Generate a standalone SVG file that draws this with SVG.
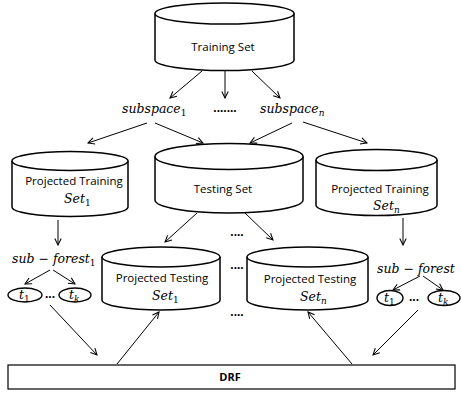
<svg xmlns="http://www.w3.org/2000/svg" width="461" height="393" viewBox="0 0 461 393">
<defs>
<marker id="arr" viewBox="0 0 10 10" refX="9" refY="5" markerWidth="8" markerHeight="8" markerUnits="userSpaceOnUse" orient="auto">
<polyline points="1,1 9,5 1,9" fill="none" stroke="#000" stroke-width="1.3"/>
</marker>
</defs>
<style>
.cyl{fill:#fff;stroke:#000;stroke-width:1.5}
.lbl{font-family:"Open Sans","Liberation Sans",sans-serif;font-size:11.5px;fill:#000;text-anchor:middle}
.m{font-family:"DejaVu Serif","Liberation Serif",serif;font-style:italic;font-size:12.5px;fill:#000}
.sub{font-size:9px;font-style:normal}
.subi{font-size:9px;font-style:italic}
.c{stroke:#000;stroke-width:1;fill:none;marker-end:url(#arr)}
.dots{font-family:"Liberation Sans",sans-serif;font-weight:bold;font-size:12px;fill:#000;text-anchor:middle}
.el{fill:#fff;stroke:#000;stroke-width:1.4}
</style>
<rect width="461" height="393" fill="#fff"/>

<g id="connectors">
<line class="c" x1="202" y1="71" x2="170" y2="98"/>
<line class="c" x1="225" y1="71" x2="225" y2="98"/>
<line class="c" x1="252" y1="71" x2="280" y2="98"/>
<line class="c" x1="147" y1="123" x2="88" y2="143"/>
<line class="c" x1="155" y1="123" x2="203" y2="143"/>
<line class="c" x1="292" y1="123" x2="250" y2="143"/>
<line class="c" x1="303" y1="122" x2="367" y2="143"/>
<line class="c" x1="58" y1="220" x2="58" y2="245"/>
<line class="c" x1="197" y1="213" x2="165" y2="242"/>
<line class="c" x1="245" y1="213" x2="273" y2="240"/>
<line class="c" x1="403" y1="218" x2="403" y2="245"/>
<line class="c" x1="50" y1="270" x2="25" y2="284"/>
<line class="c" x1="53" y1="270" x2="75" y2="284"/>
<line class="c" x1="420" y1="276" x2="393" y2="290"/>
<line class="c" x1="423" y1="276" x2="443" y2="290"/>
<line class="c" x1="50" y1="305" x2="97" y2="355"/>
<line class="c" x1="117" y1="364" x2="159" y2="312"/>
<line class="c" x1="352" y1="364" x2="308" y2="312"/>
<line class="c" x1="418" y1="310" x2="373" y2="355"/>
</g>

<g id="training-set">
<path class="cyl" d="M155,13.5 L155,60 A69.5,10.5 0 0 0 294,60 L294,13.5"/>
<ellipse class="cyl" cx="224.5" cy="13.5" rx="69.5" ry="10.5"/>
<text class="lbl" x="223" y="51">Training Set</text>
</g>

<g id="subspace-1"><text class="m" x="122" y="113">subspace<tspan class="sub" dy="3">1</tspan></text></g>
<g id="subspace-dots"><text class="dots" x="225" y="112">.......</text></g>
<g id="subspace-n"><text class="m" x="260" y="113">subspace<tspan class="subi" dy="3">n</tspan></text></g>

<g id="projected-training-1">
<path class="cyl" d="M12,161 L12,207 A58,9.5 0 0 0 128,207 L128,161"/>
<ellipse class="cyl" cx="70" cy="161" rx="58" ry="9.5"/>
<text class="lbl" x="74" y="185">Projected Training</text>
<text class="m" x="64" y="203">Set<tspan class="sub" dy="3">1</tspan></text>
</g>

<g id="testing-set">
<path class="cyl" d="M155,156.5 L155,200 A74,13 0 0 0 303,200 L303,156.5"/>
<ellipse class="cyl" cx="229" cy="156.5" rx="74" ry="13"/>
<text class="lbl" x="223" y="193">Testing Set</text>
</g>

<g id="projected-training-n">
<path class="cyl" d="M316,160 L316,205 A60.5,10.5 0 0 0 437,205 L437,160"/>
<ellipse class="cyl" cx="376.5" cy="160" rx="60.5" ry="10.5"/>
<text class="lbl" x="380" y="193">Projected Training</text>
<text class="m" x="373" y="210">Set<tspan class="subi" dy="3">n</tspan></text>
</g>

<g id="sub-forest-1">
<text class="m" x="12" y="263">sub − forest<tspan class="sub" dy="3">1</tspan></text>
<ellipse class="el" cx="25" cy="295" rx="17" ry="7"/>
<text class="m" x="19" y="299">t<tspan class="sub" dy="3">1</tspan></text>
<text class="dots" x="50" y="298">...</text>
<ellipse class="el" cx="75" cy="295" rx="16" ry="7"/>
<text class="m" x="69" y="299">t<tspan class="subi" dy="3">k</tspan></text>
</g>

<g id="projected-testing-1">
<path class="cyl" d="M102,257 L102,300 A59,10 0 0 0 220,300 L220,257"/>
<ellipse class="cyl" cx="161" cy="257" rx="59" ry="10"/>
<text class="lbl" x="162" y="282">Projected Testing</text>
<text class="m" x="152" y="300">Set<tspan class="sub" dy="3">1</tspan></text>
</g>

<g id="testing-dots">
<text class="dots" x="237" y="236">....</text>
<text class="dots" x="237" y="269">....</text>
<text class="dots" x="237" y="316">....</text>
</g>

<g id="projected-testing-n">
<path class="cyl" d="M247,257 L247,300 A60.5,10 0 0 0 368,300 L368,257"/>
<ellipse class="cyl" cx="307.5" cy="257" rx="60.5" ry="10"/>
<text class="lbl" x="310" y="283">Projected Testing</text>
<text class="m" x="300" y="301">Set<tspan class="subi" dy="3">n</tspan></text>
</g>

<g id="sub-forest-n">
<text class="m" x="377" y="273">sub − forest</text>
<ellipse class="el" cx="390" cy="298" rx="13" ry="7.5"/>
<text class="m" x="384" y="302">t<tspan class="sub" dy="3">1</tspan></text>
<text class="dots" x="414" y="301">...</text>
<ellipse class="el" cx="444" cy="298" rx="16" ry="7.5"/>
<text class="m" x="438" y="302">t<tspan class="subi" dy="3">k</tspan></text>
</g>

<g id="drf">
<rect x="8" y="365" width="447" height="24" fill="#fff" stroke="#000" stroke-width="1.2"/>
<text x="230" y="381" font-family="'Open Sans','Liberation Sans',sans-serif" font-weight="bold" font-size="11px" text-anchor="middle">DRF</text>
</g>
</svg>
